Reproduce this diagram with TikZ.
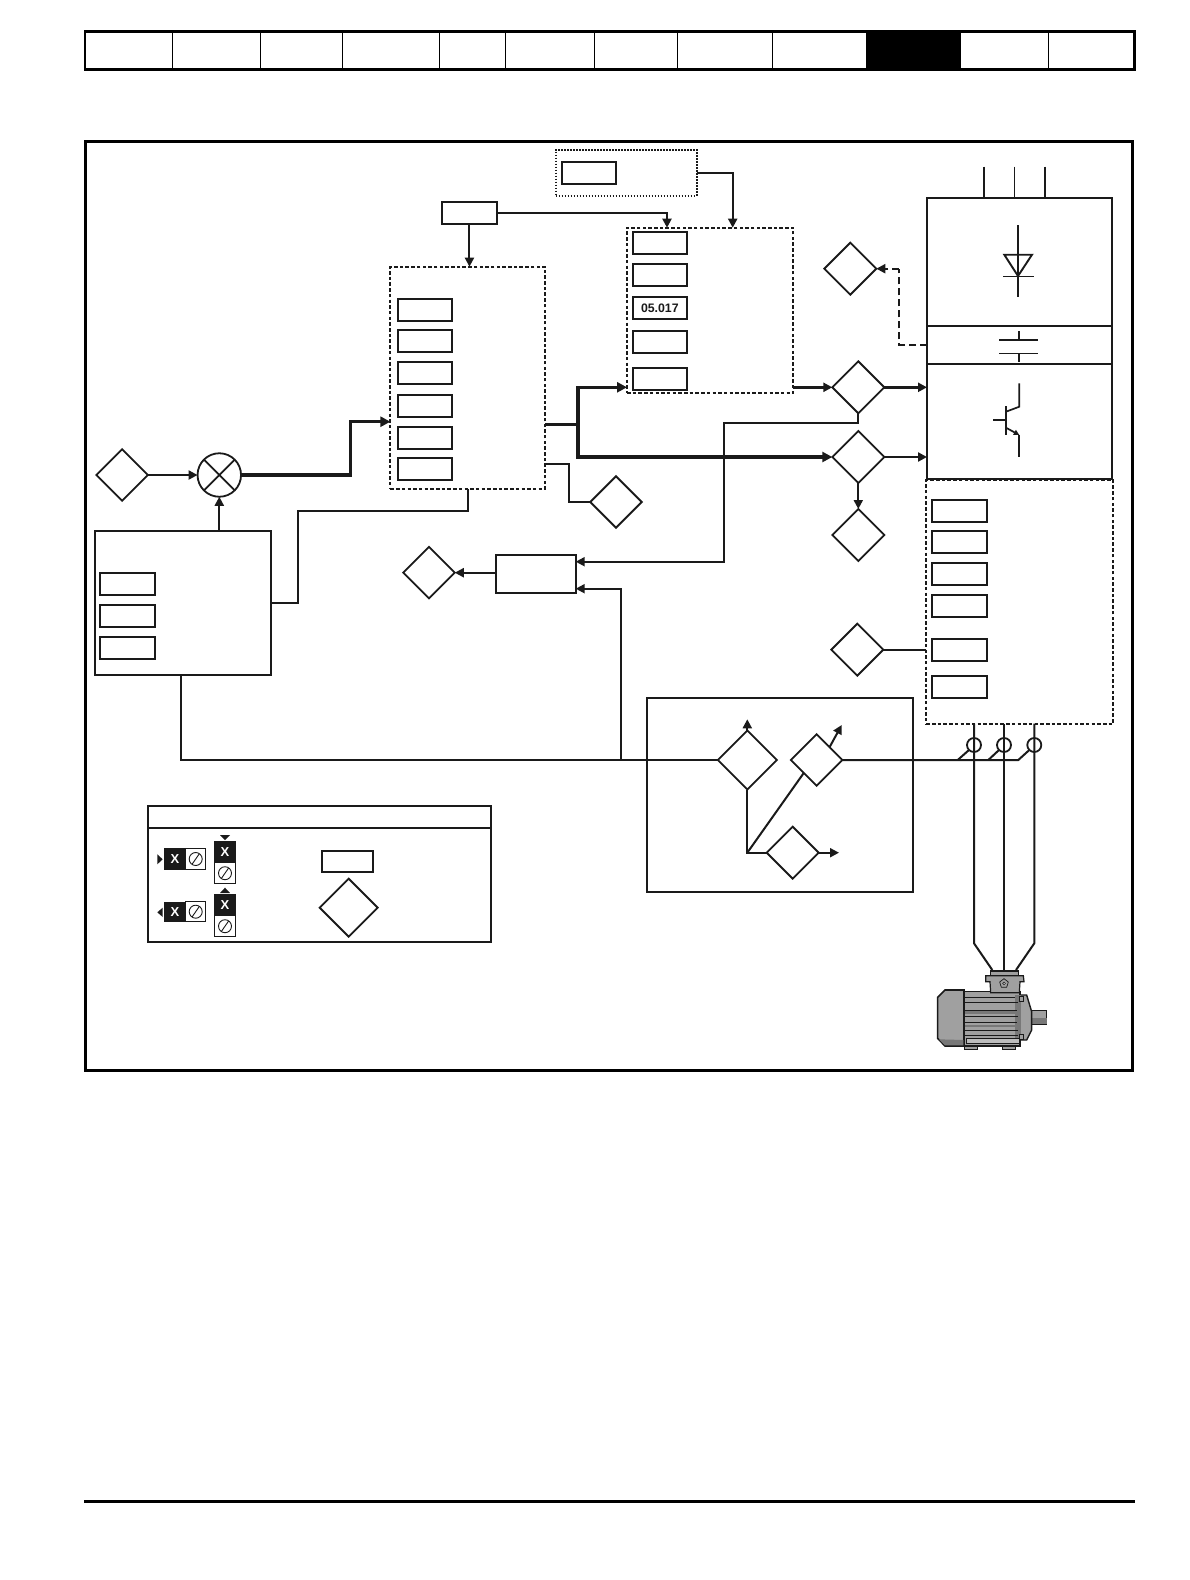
\documentclass[tikz,border=0pt]{standalone}
\usepackage{fontspec}
\setmainfont{Liberation Sans}
\usetikzlibrary{shapes.geometric,arrows.meta,calc}
\definecolor{ink}{HTML}{1A1A1A}
\definecolor{mgray}{HTML}{A0A0A0}
\definecolor{mdark}{HTML}{787878}
\newcommand{\myrbox}[7]{%
  \pgfmathsetmacro\mycx{(#3+#5)/2}\pgfmathsetmacro\mycy{(#4+#6)/2}%
  \pgfmathsetmacro\mywx{#5-#3}\pgfmathsetmacro\mywy{#6-#4}%
  \node[#1,minimum width=\mywx pt,minimum height=\mywy pt] (#2) at (\mycx,\mycy) {#7};}
\tikzset{
  basebox/.style={draw=ink,rectangle,inner sep=0pt,outer sep=0pt},
  sbox/.style={basebox,line width=1.9pt,fill=white},
  plainbox/.style={basebox,line width=2pt},
  dashbox/.style={basebox,line width=2pt,dash pattern=on 3.5pt off 2.2pt},
  dotbox/.style={basebox,line width=1.8pt,dash pattern=on 1.5pt off 1.5pt},
  dia/.style={diamond,draw=ink,line width=1.8pt,aspect=1,inner sep=0pt,outer sep=0pt,minimum size=52pt},
  ln/.style={draw=ink,line width=2pt},
  arr/.style={ln,-{Triangle[length=9pt,width=9pt]}},
  thk/.style={draw=ink,line width=3.2pt,-{Triangle[length=10pt,width=10pt]}},
  thkline/.style={draw=ink,line width=3pt},
  dshl/.style={draw=ink,line width=2pt,dash pattern=on 7pt off 4pt},
  ctcoil/.style={circle,draw=ink,line width=1.8pt,minimum size=14pt,inner sep=0pt,outer sep=0pt},
  termx/.style={rectangle,fill=ink,text=white,inner sep=0pt,outer sep=0pt,font=\bfseries\fontsize{13}{13}\selectfont},
  termo/.style={basebox,line width=1pt,fill=white},
  slash/.style={circle,draw=ink,line width=0.9pt,minimum size=13pt,inner sep=0pt,outer sep=0pt,
    path picture={\draw[ink,line width=0.9pt] ([xshift=2pt]path picture bounding box.south west) -- ([xshift=-2pt]path picture bounding box.north east);}},
  mixer/.style={circle,draw=ink,line width=1.8pt,minimum size=43.5pt,inner sep=0pt,outer sep=0pt,
    path picture={\draw[ink,line width=1.8pt] (path picture bounding box.south west) -- (path picture bounding box.north east)
      (path picture bounding box.north west) -- (path picture bounding box.south east);}},
  motorpart/.style={draw=ink,line width=1pt,fill=mgray}
}
\begin{document}
\begin{tikzpicture}[x=1pt,y=-1pt]
\useasboundingbox (0,0) rectangle (1190,1580);
\fill[white] (0,0) rectangle (1190,1580);

% header strip
\fill[black] (83.6,30) rectangle (1135.6,33);
\fill[black] (83.6,30) rectangle (86.2,68);
\fill[black] (1132.8,30) rectangle (1135.6,68);
\fill[black] (83.6,68) rectangle (1135.6,71);
\fill[black] (866,30) rectangle (960.5,70);
\foreach \hx in {172.5,260.5,342.5,439.5,505,594.5,677,772.5,1048}
  \draw[black,line width=1pt] (\hx,32) -- (\hx,69);

% frame and footer
\draw[black,line width=3pt] (85,141.5) rectangle (1132.8,1070.3);
\fill[black] (83.6,1500) rectangle (1134.8,1502.8);

% drive blocks
\myrbox{dotbox}{dotb}{555.7}{149.7}{696.7}{195.7}{}
\myrbox{sbox}{dotin}{561.7}{161.7}{616}{184}{}
\myrbox{dashbox}{dashc}{627}{227.7}{793.3}{393}{}
\myrbox{sbox}{c1}{632.7}{232.3}{687}{254.3}{}
\myrbox{sbox}{c2}{632.7}{263.7}{687}{286}{}
\myrbox{sbox,font=\bfseries\fontsize{12.3}{12.3}\selectfont,text=ink}{c3}{632.7}{296.7}{687}{319}{05.017}
\myrbox{sbox}{c4}{632.7}{331}{687}{353.3}{}
\myrbox{sbox}{c5}{632.7}{367.7}{687}{390}{}
\myrbox{sbox}{tfour}{442.1}{202}{496.8}{224}{}
\myrbox{dashbox}{big}{390.4}{266.7}{545}{489}{}
\myrbox{sbox}{b1}{398.2}{298.7}{452.1}{320.7}{}
\myrbox{sbox}{b2}{398.2}{330.3}{452.1}{352.3}{}
\myrbox{sbox}{b3}{398.2}{362}{452.1}{384}{}
\myrbox{sbox}{b4}{398.2}{395}{452.1}{417}{}
\myrbox{sbox}{b5}{398.2}{426.7}{452.1}{448.7}{}
\myrbox{sbox}{b6}{398.2}{458.3}{452.1}{480.3}{}
\myrbox{plainbox}{lbox}{94.6}{530.7}{271.4}{675}{}
\myrbox{sbox}{l1}{100.4}{573.3}{155}{595.3}{}
\myrbox{sbox}{l2}{100.4}{605.3}{155}{627.3}{}
\myrbox{sbox}{l3}{100.4}{636.7}{155}{659}{}
\myrbox{plainbox}{fbox}{495.7}{555}{575.7}{593.3}{}
\myrbox{plainbox}{rect}{927}{198.3}{1111.7}{325.7}{}
\myrbox{plainbox}{bus}{927}{325.7}{1111.7}{363.7}{}
\myrbox{plainbox}{inv}{927}{363.7}{1111.7}{479.3}{}
\myrbox{dashbox}{rb}{926.3}{480.3}{1113.3}{723.7}{}
\myrbox{sbox}{r1}{932.3}{500}{986.7}{522}{}
\myrbox{sbox}{r2}{932.3}{530.7}{986.7}{552.7}{}
\myrbox{sbox}{r3}{932.3}{563.3}{986.7}{585.3}{}
\myrbox{sbox}{r4}{932.3}{595}{986.7}{617}{}
\myrbox{sbox}{r5}{932.3}{639.3}{986.7}{661.3}{}
\myrbox{sbox}{r6}{932.3}{675.7}{986.7}{697.7}{}
\myrbox{plainbox}{fbk}{646.7}{698.3}{912.7}{892}{}

% diamonds
\node[dia] (A) at (850.3,268.7) {};
\node[dia] (B) at (858.3,387.3) {};
\node[dia] (C) at (858.3,457) {};
\node[dia] (J) at (858.3,535) {};
\node[dia] (K) at (857.3,649.7) {};
\node[dia,minimum size=51.5pt] (dL) at (122.1,475) {};
\node[dia,minimum size=51.5pt] (D) at (616,502) {};
\node[dia,minimum size=51.5pt] (E) at (429,572.7) {};
\node[dia,minimum size=59pt] (G) at (747.3,760) {};
\node[dia,minimum size=51.5pt] (H) at (816.7,760) {};
\node[dia] (I) at (792.7,852.7) {};
\node[mixer] (mix) at (219.3,475) {};

% named free ends
\coordinate (up1) at (667,227.7);
\coordinate (up2) at (732.7,227.7);
\coordinate (in3) at (350.7,421.7);
\coordinate (j5) at (297.5,510.7);
\coordinate (t6) at (577.9,424.3);
\coordinate (j9) at (723.7,423.3);
\coordinate (inF1) at (575.7,561.7);
\coordinate (t11) at (569,464);
\coordinate (b12) at (181.4,760);
\coordinate (j13) at (621.4,760);
\coordinate (inF2) at (575.7,588.7);
\coordinate (gtop) at (747.3,719.3);
\coordinate (htip) at (841.7,725);
\coordinate (itip) at (839,852.7);
\coordinate (dc) at (899.3,268.7);
\coordinate (ctend) at (1018.3,760);
\coordinate (ph1a) at (974,943.3);
\coordinate (ph1b) at (992.3,970);
\coordinate (ph2a) at (1004,970);
\coordinate (ph3a) at (1034.3,943.3);
\coordinate (ph3b) at (1016,970);
\coordinate (ct1s) at (957.7,760);
\coordinate (ct2s) at (988.3,760);
\coordinate (s1) at (984,166.7);
\coordinate (s2) at (1014.3,166.7);
\coordinate (s3) at (1045,166.7);

% connectors
\draw[arr] (tfour.east) -| (up1);
\draw[arr] (dotb.east) -| (up2);
\draw[arr] (tfour.south) -- (tfour.south |- big.north);
\draw[arr,line width=2.8pt] (dL.east) -- (mix.west);
\draw[arr] (mix.south |- lbox.north) -- (mix.south);
\draw[thk] (mix.east) -| (in3) -- (big.west |- in3);
\draw[ln] (big.south) |- (j5) |- (lbox.east);
\draw[thkline,line width=2.8pt] (big.east |- t6) -- (t6);
\draw[thk] (t6) |- (dashc.west |- B);
\draw[thk] (t6) |- (C.west);
\draw[arr,line width=2.8pt] (dashc.east |- B) -- (B.west);
\draw[arr,line width=2.8pt] (B.east) -- (inv.west |- B);
\draw[arr,line width=2.8pt] (C.east) -- (inv.west |- C);
\draw[arr] (B.south) |- (j9) |- (inF1);
\draw[ln] (big.east |- t11) -- (t11) |- (D.west);
\draw[arr] (fbox.west |- E) -- (E.east);
\draw[ln] (b12 |- lbox.south) -- (b12) -- (G.west);
\draw[arr] (j13) |- (inF2);
\draw[arr] (G.north) -- (gtop);
\draw[ln] (G.south) |- (I.west);
\draw[ln] (G.south |- I) -- (H.south west);
\draw[arr] (H.north east) -- (htip);
\draw[arr] (I.east) -- (itip);
\draw[arr] (C.south) -- (J.north);
\draw[ln] (K.east) -- (rb.west |- K);
\draw[dshl] (bus.west) -| (dc);
\draw[dshl,-{Triangle[length=9pt,width=9pt]}] (dc) -- (A.east);
\draw[ln,line width=2.2pt] (s1) -- (s1 |- rect.north);
\draw[ln,line width=1.4pt] (s2) -- (s2 |- rect.north);
\draw[ln,line width=2.2pt] (s3) -- (s3 |- rect.north);

% rectifier / bus / inverter symbols
\draw[ink,line width=2pt] (1017.8,225) -- (1017.8,297.3);
\draw[ink,line width=1.9pt] (1004.3,254.7) -- (1032,254.7) -- (1018,276) -- cycle;
\draw[ink,line width=1.3pt] (1003.3,276.3) -- (1034,276.3);
\draw[ink,line width=2pt] (1019,331.3) -- (1019,340) (999,340) -- (1037.7,340);
\draw[ink,line width=1.3pt] (999,353.3) -- (1037.7,353.3);
\draw[ink,line width=2pt] (1019,353.3) -- (1019,362);
\draw[ink,line width=1.7pt] (1019.3,383.3) -- (1019.3,406.7) -- (1006,411.7);
\draw[ink,line width=2.2pt] (1006,406) -- (1006,434.7);
\draw[ink,line width=1.7pt] (993.3,419.7) -- (1006,419.7);
\draw[ink,line width=1.7pt,-{Triangle[length=5.5pt,width=5.5pt]}] (1006,427.7) -- (1019.3,435);
\draw[ink,line width=1.7pt] (1019.3,434.5) -- (1019.3,456.7);

% output phases
\node[ctcoil] (ct1) at (974,745) {};
\node[ctcoil] (ct2) at (1004,745) {};
\node[ctcoil] (ct3) at (1034.3,745) {};
\draw[ln] (ct1 |- rb.south) -- (ph1a) -- (ph1b);
\draw[ln,line width=2.6pt] (ct2 |- rb.south) -- (ph2a);
\draw[ln] (ct3 |- rb.south) -- (ph3a) -- (ph3b);
\draw[ln] (H.east) -- (ctend) -- (ct3.south west);
\draw[ln] (ct1s) -- (ct1.south west);
\draw[ln] (ct2s) -- (ct2.south west);

% legend
\myrbox{plainbox}{leg}{147.7}{806}{490.7}{941.7}{}
\draw[ln] (leg.west |- 0,828.3) -- (leg.east |- 0,828.3);
\myrbox{sbox}{legbox}{321.7}{850.7}{373.3}{871.7}{}
\node[dia,minimum size=58pt] (legdia) at (348.7,907.7) {};
\myrbox{termo}{o1}{185.7}{848.3}{205.7}{869.7}{}
\myrbox{termx}{x1}{164}{848.3}{185.7}{869.7}{X}
\node[slash] (q1) at (o1.center) {};
\myrbox{termo}{o2}{185.7}{901.7}{205.7}{921.7}{}
\myrbox{termx}{x2}{164}{901.7}{185.7}{921.7}{X}
\node[slash] (q2) at (o2.center) {};
\myrbox{termo}{o3}{214.3}{862.7}{235.7}{883.7}{}
\myrbox{termx}{x3}{214.3}{841}{235.7}{862.7}{X}
\node[slash] (q3) at (o3.center) {};
\myrbox{termo}{o4}{214.3}{915.7}{235.7}{936.7}{}
\myrbox{termx}{x4}{214.3}{894}{235.7}{915.7}{X}
\node[slash] (q4) at (o4.center) {};
\fill[ink] (157.3,854.3) -- (157.3,864.3) -- (162.7,859.3) -- cycle;
\fill[ink] (162.7,907.7) -- (162.7,917) -- (157.3,912.3) -- cycle;
\fill[ink] (220,835) -- (230,835) -- (225,840) -- cycle;
\fill[ink] (220,893) -- (230,893) -- (225,887.7) -- cycle;

% motor
\begin{scope}[shift={(925,950)},x=0.3333pt,y=-0.3333pt]
  \draw[motorpart] (320,180) rectangle (365,222);
  \fill[mdark] (320,205) rectangle (365,222);
  \draw[motorpart,line width=1.4pt] (285,135) -- (305,135) -- (320,185) -- (320,240) -- (305,270) -- (285,270) -- cycle;
  \draw[motorpart] (118,288) rectangle (157,298);
  \draw[motorpart] (232,288) rectangle (272,298);
  \draw[motorpart,line width=1.4pt] (117,125) rectangle (285,288);
  \fill[mdark] (270,135) rectangle (288,270);
  \draw[ink,line width=0.9pt,fill=mgray] (284,140) rectangle (295,155);
  \draw[ink,line width=0.9pt,fill=mgray] (284,252) rectangle (295,267);
  \draw[ink,line width=0.9pt,fill=mgray!70!white] (125,265) rectangle (283,280);
  \foreach \fy/\fx in {142/270,158/280,180/275,198/280,218/275,240/280,256/280}
    \draw[ink,line width=1pt] (118,\fy) -- (\fx,\fy);
  \fill[mdark] (118,184) rectangle (275,192);
  \fill[mdark] (118,224) rectangle (275,232);
  \draw[motorpart,line width=1.6pt] (60,120) -- (117,120) -- (117,288) -- (60,288) -- (38,265) -- (38,142) -- cycle;
  \fill[mdark] (42,268) -- (115,270) -- (115,286) -- (60,286) -- cycle;
  \draw[motorpart,line width=1.4pt] (197,62) rectangle (280,80);
  \draw[motorpart,line width=1.2pt] (182,77) -- (295,77) -- (297,95) -- (285,95) -- (283,128) -- (197,128) -- (195,95) -- (182,95) -- cycle;
  \draw[ink,line width=2pt] (197,62) -- (280,62);
  \draw[ink,line width=0.7pt,fill=mgray] (237,86) -- (250,96) -- (245,112) -- (229,112) -- (224,96) -- cycle;
  \draw[ink,line width=0.6pt,fill=white] (237,100) circle (4);
\end{scope}
\end{tikzpicture}
\end{document}
